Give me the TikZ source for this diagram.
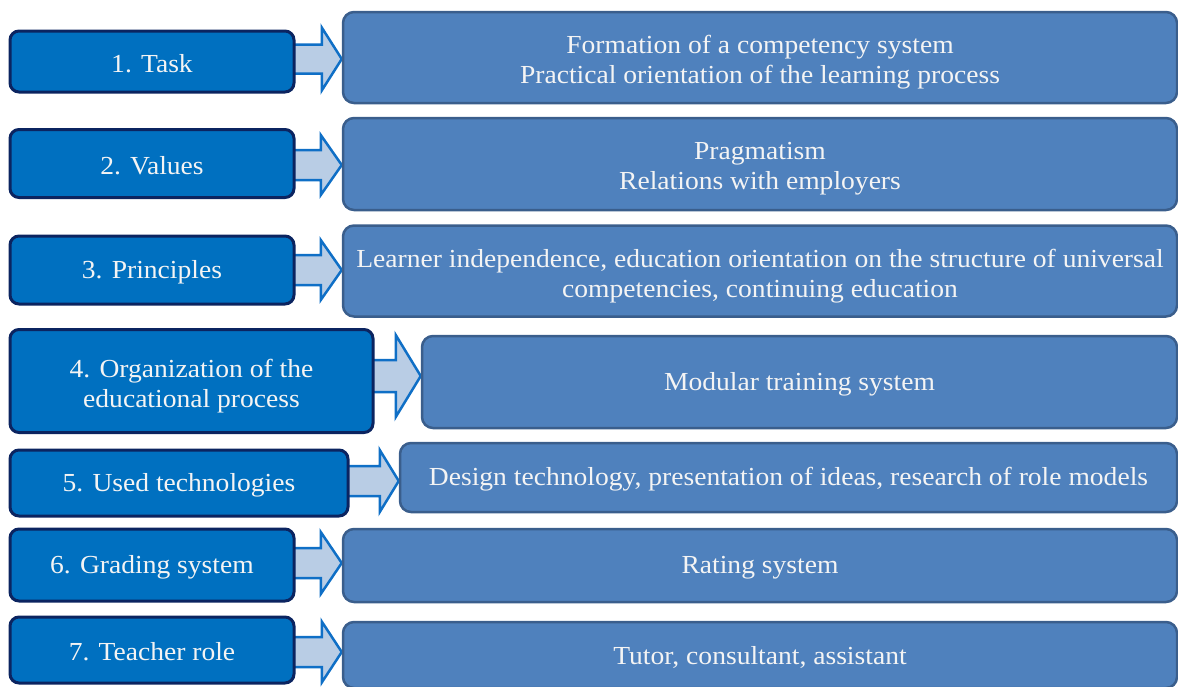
\documentclass[tikz,border=0pt]{standalone}
\usepackage{fontspec}
\setmainfont{Liberation Serif}[FakeStretch=1.06]
\usetikzlibrary{calc,backgrounds}
\definecolor{lfill}{HTML}{0070C0}
\definecolor{ldraw}{HTML}{0B2460}
\definecolor{rfill}{HTML}{4F81BD}
\definecolor{rdraw}{HTML}{3A5E8C}
\definecolor{afill}{HTML}{B9CDE5}
\definecolor{adraw}{HTML}{0F6FC6}
\definecolor{txt}{HTML}{F4F4F4}
\tikzset{
  lbl/.style={text=txt, align=center, inner sep=0pt, font=\fontsize{26}{30}\selectfont},
  lbox/.style={draw=ldraw, fill=lfill, line width=3pt, rounded corners=9pt, inner sep=0pt},
  rbox/.style={draw=rdraw, fill=rfill, line width=2.5pt, rounded corners=11pt, inner sep=0pt},
  one/.style={label={[lbl, yshift=-2pt]center:{#1}}},
  two/.style={label={[lbl, yshift=-5pt]center:{#1}}},
  barrow/.style={draw=adraw, fill=afill, line width=2.5pt, line join=miter},
}
% #1 left node, #2 right node, #3 center y, #4 half shaft, #5 half head, #6 head length
\newcommand{\blockarrow}[6]{%
  \path let \p1=(#1.east), \p2=(#2.west) in
    [barrow] (\x1-4pt, {-#3pt+#4pt}) -- (\x2-#6pt, {-#3pt+#4pt}) -- (\x2-#6pt, {-#3pt+#5pt})
    -- (\x2, -#3pt) -- (\x2-#6pt, {-#3pt-#5pt}) -- (\x2-#6pt, {-#3pt-#4pt}) -- (\x1-4pt, {-#3pt-#4pt}) -- cycle;}
\begin{document}
\begin{tikzpicture}[x=1pt,y=-1pt]
\useasboundingbox (0,0) rectangle (1178,686);
% left boxes
\node[lbox, minimum width=284pt, minimum height=61pt, one={1. Task}] (l1) at (152,61.5) {};
\node[lbox, minimum width=284pt, minimum height=68pt, one={2. Values}] (l2) at (152,163.5) {};
\node[lbox, minimum width=284pt, minimum height=68pt, one={3. Principles}] (l3) at (152,270) {};
\node[lbox, minimum width=363pt, minimum height=103pt, two={4. Organization of the\\educational process}] (l4) at (191.5,381) {};
\node[lbox, minimum width=338pt, minimum height=66pt, one={5. Used technologies}] (l5) at (179,483) {};
\node[lbox, minimum width=284pt, minimum height=72pt, one={6. Grading system}] (l6) at (152,565) {};
\node[lbox, minimum width=284pt, minimum height=66pt, one={7. Teacher role}] (l7) at (152,650) {};
% right boxes
\node[rbox, minimum width=834pt, minimum height=91pt, two={Formation of a competency system\\Practical orientation of the learning process}] (r1) at (760,57.5) {};
\node[rbox, minimum width=834pt, minimum height=92pt, two={Pragmatism\\Relations with employers}] (r2) at (760,164) {};
\node[rbox, minimum width=834pt, minimum height=91pt, two={Learner independence, education orientation on the structure of universal\\competencies, continuing education}] (r3) at (760,271) {};
\node[rbox, minimum width=755pt, minimum height=92pt, one={Modular training system}] (r4) at (799.5,382) {};
\node[rbox, minimum width=777pt, minimum height=69pt, one={Design technology, presentation of ideas, research of role models}] (r5) at (788.5,477.5) {};
\node[rbox, minimum width=834pt, minimum height=73pt, one={Rating system}] (r6) at (760,565.5) {};
\node[rbox, minimum width=834pt, minimum height=66pt, one={Tutor, consultant, assistant}] (r7) at (760,655) {};
% arrows
\begin{scope}[on background layer]
\blockarrow{l1}{r1}{59}{14.5}{31.5}{20}
\blockarrow{l2}{r2}{165}{15}{30}{21}
\blockarrow{l3}{r3}{270}{15}{30}{21}
\blockarrow{l4}{r4}{376}{16}{41}{25}
\blockarrow{l5}{r5}{481}{15}{31}{19}
\blockarrow{l6}{r6}{563}{15}{31}{21}
\blockarrow{l7}{r7}{652}{15}{30.5}{20}
\end{scope}
\end{tikzpicture}
\end{document}
